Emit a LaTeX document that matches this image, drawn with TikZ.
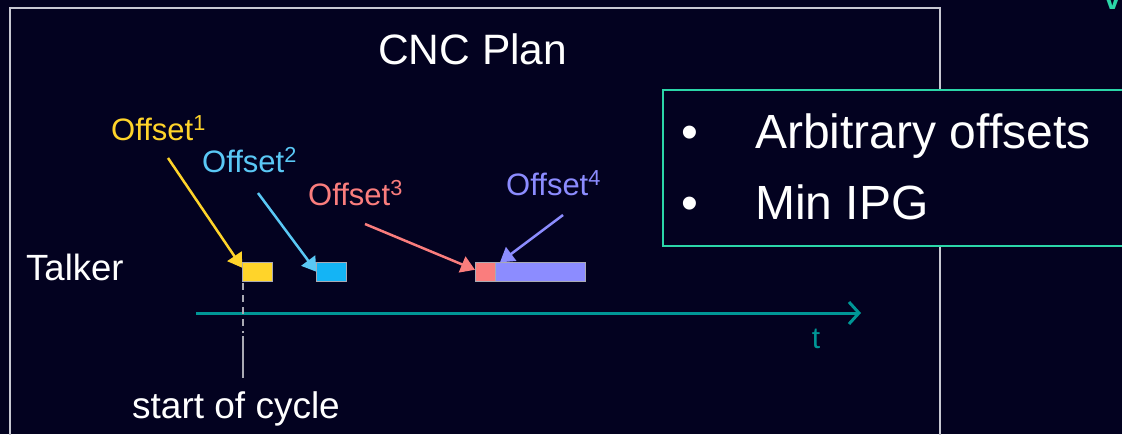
\documentclass[tikz,border=0pt]{standalone}
\usepackage{fontspec}
\setmainfont{Liberation Sans}
\usetikzlibrary{arrows.meta}
\definecolor{bg}{RGB}{3,2,32}
\definecolor{framec}{RGB}{200,200,210}
\definecolor{boxc}{RGB}{43,214,168}
\definecolor{axisc}{RGB}{0,150,150}
\definecolor{yel}{RGB}{255,212,42}
\definecolor{bluetxt}{RGB}{90,200,245}
\definecolor{bluerect}{RGB}{20,180,245}
\definecolor{redc}{RGB}{250,125,125}
\definecolor{purp}{RGB}{140,140,255}
\definecolor{guide}{RGB}{170,170,180}
\tikzset{
  txt/.style={text=white, inner sep=0pt, anchor=base west},
  lbl/.style={inner sep=0pt, anchor=base west, font=\fontsize{31}{31}\selectfont},
  slot/.style={draw=guide, line width=0.8pt, minimum height=19.5pt, inner sep=0pt},
  ptr/.style={line width=2.5pt, arrows={-Triangle[length=14pt,width=17pt]}},
}
\begin{document}
\begin{tikzpicture}[x=1pt,y=-1pt]
\useasboundingbox (0,0) rectangle (1122,434);
\clip (0,0) rectangle (1122,434);
\fill[bg] (0,0) rectangle (1122,434);
% frame
\draw[framec, line width=1.5pt] (10,440) -- (10,8) -- (940,8) -- (940,440);
\node[txt, font=\fontsize{42.5}{42}\selectfont] (title) at (378,64) {CNC Plan};
% bullet box
\draw[boxc, line width=1.5pt, fill=bg] (663,90) rectangle (1140,246);
\node[txt, font=\fontsize{48}{48}\selectfont] (b1) at (681,148) {•};
\node[txt, font=\fontsize{48}{48}\selectfont] (t1) at (755,148) {Arbitrary offsets};
\node[txt, font=\fontsize{48}{48}\selectfont] (b2) at (681,219) {•};
\node[txt, font=\fontsize{48}{48}\selectfont] (t2) at (755,219) {Min IPG};
% top-right partial glyph
\node[inner sep=0pt, anchor=base west, text=boxc, font=\bfseries\fontsize{30}{30}\selectfont] (v) at (1104,9) {v};
% talker
\node[txt, font=\fontsize{36.5}{36}\selectfont] (talker) at (26,280) {Talker};
% slots
\node[slot, fill=yel, minimum width=30pt, anchor=north west] (s1) at (242.3,261.8) {};
\node[slot, fill=bluerect, minimum width=30pt, anchor=north west] (s2) at (316,261.8) {};
\node[slot, fill=redc, minimum width=20pt, anchor=north west] (s3) at (475,261.8) {};
\node[slot, fill=purp, minimum width=90pt, anchor=north west] (s4) at (495,261.8) {};
% axis
\coordinate (a0) at (196,313);
\coordinate (a1) at (861,313);
\draw[axisc, line width=3pt, -{Straight Barb[length=10pt,width=22pt,line width=3pt]}] (a0) -- (a1);
\node[inner sep=0pt, anchor=base, text=axisc, font=\fontsize{30}{30}\selectfont] (t) at (816,348) {t};
% start of cycle
\coordinate (c1) at (243,333);
\coordinate (c2) at (243,378);
\draw[guide, line width=1.5pt, dash pattern=on 7pt off 5pt] (243,283) -- (c1);
\draw[guide, line width=1.2pt] (243,336) -- (c2);
\node[txt, anchor=base, font=\fontsize{37}{37}\selectfont] (soc) at (236,418) {start of cycle};
% offsets
\node[lbl, text=yel] (o1) at (111,140) {Offset\textsuperscript{1}};
\node[lbl, text=bluetxt] (o2) at (202,172) {Offset\textsuperscript{2}};
\node[lbl, text=redc] (o3) at (308,205) {Offset\textsuperscript{3}};
\node[lbl, text=purp] (o4) at (506,195) {Offset\textsuperscript{4}};
\coordinate (p1) at (168,158);
\coordinate (p2) at (258,193);
\coordinate (p3) at (365,224);
\coordinate (p4) at (563,215);
\coordinate (q1) at ([shift={(0,6)}]s1.north west);
\coordinate (q2) at ([shift={(0.5,10)}]s2.north west);
\coordinate (q3) at ([shift={(0,8)}]s3.north west);
\coordinate (q4) at ([shift={(5,0.5)}]s4.north west);
\draw[ptr, yel] (p1) -- (q1);
\draw[ptr, bluetxt] (p2) -- (q2);
\draw[ptr, redc] (p3) -- (q3);
\draw[ptr, purp] (p4) -- (q4);
\end{tikzpicture}
\end{document}
